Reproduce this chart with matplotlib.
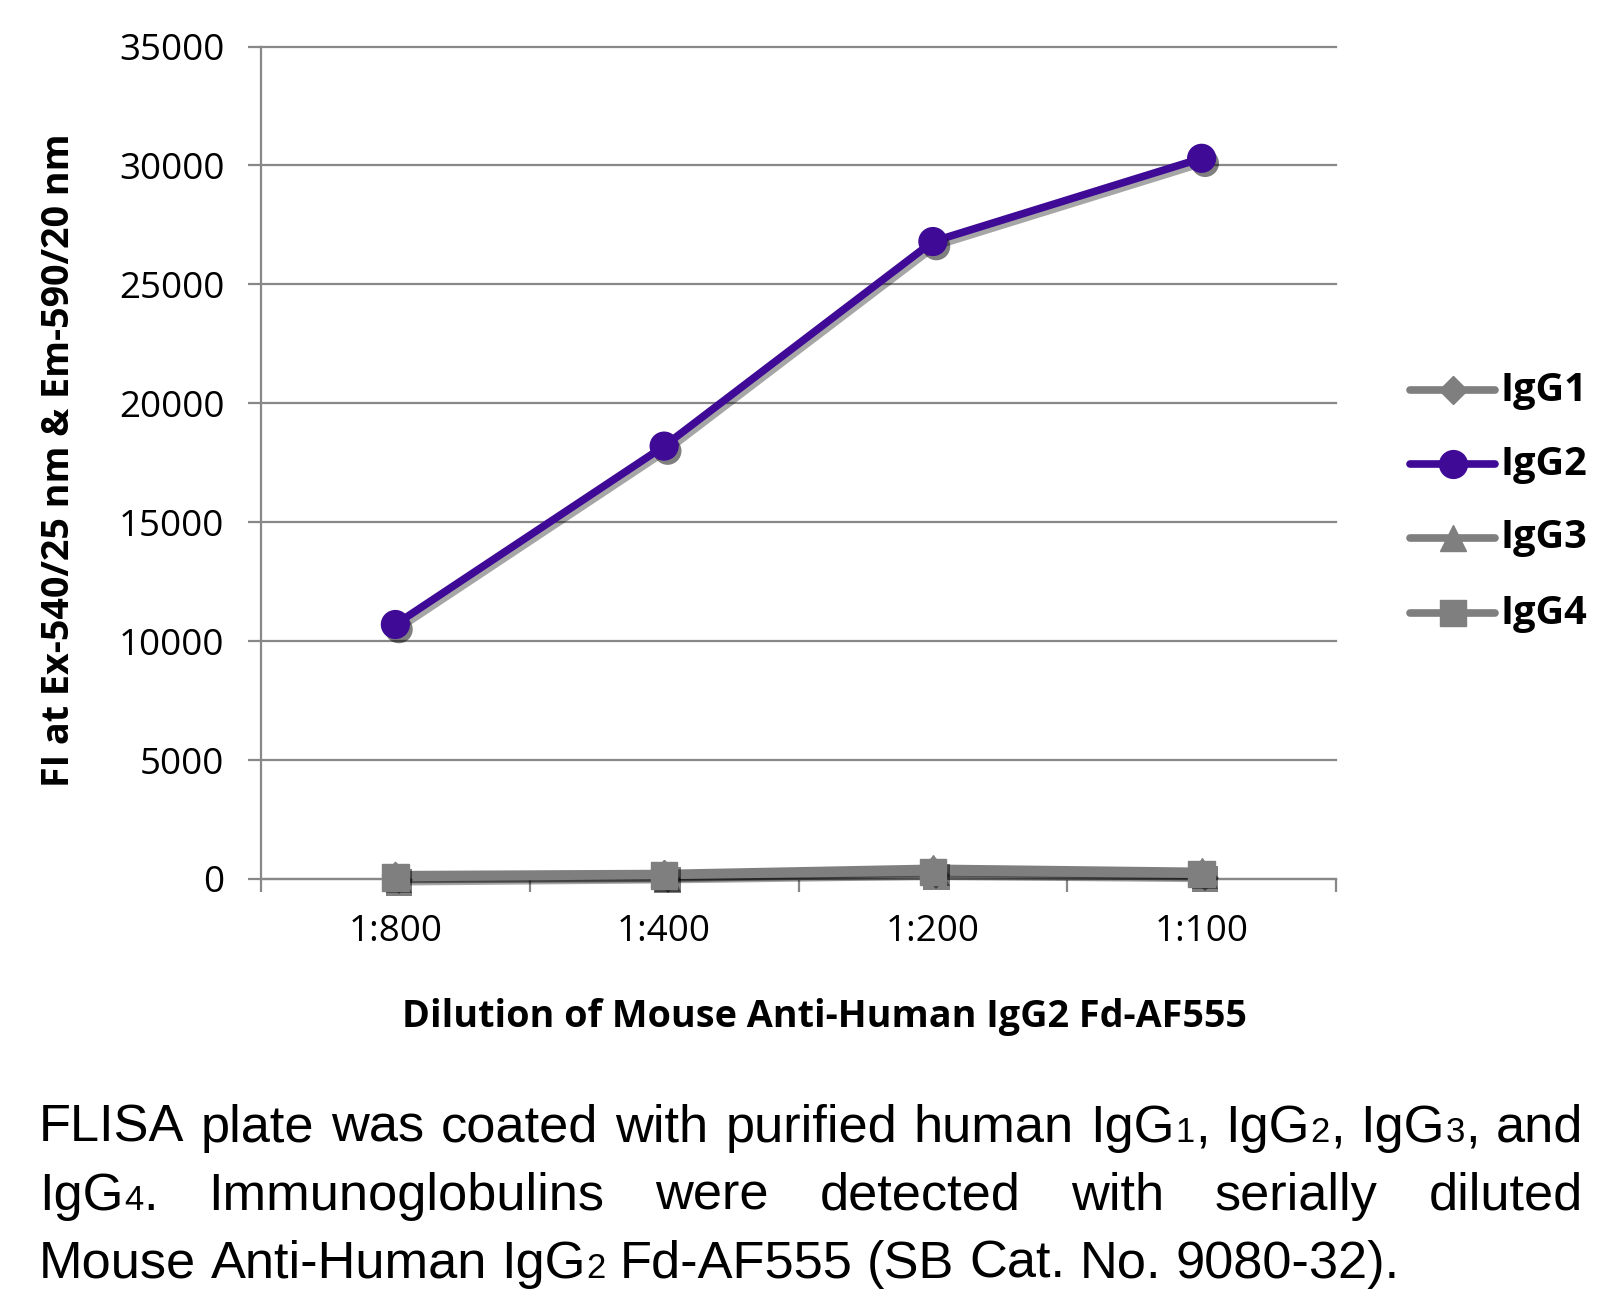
import re
import matplotlib
matplotlib.use("Agg")
import matplotlib.pyplot as plt
from matplotlib import font_manager
from matplotlib import patheffects as pe
from matplotlib.lines import Line2D

# ---------------- data ----------------
categories = ["1:800", "1:400", "1:200", "1:100"]
series_names = ["IgG1", "IgG2", "IgG3", "IgG4"]
igg1 = [150, 200, 380, 260]
igg2 = [10700, 18200, 26800, 30300]
igg3 = [180, 230, 450, 320]
igg4 = [60, 150, 300, 200]
y_ticks = [0, 5000, 10000, 15000, 20000, 25000, 30000, 35000]
x_label = "Dilution of Mouse Anti-Human IgG2 Fd-AF555"
y_label = "FI at Ex-540/25 nm & Em-590/20 nm"
caption_lines = [
    "FLISA plate was coated with purified human IgG~1, IgG~2, IgG~3, and",
    "IgG~4.  Immunoglobulins were detected with serially diluted",
    "Mouse Anti-Human IgG~2 Fd-AF555 (SB Cat. No. 9080-32).",
]

# ---------------- styling ----------------
W, H = 1620, 1306
GRAY = "#7f7f7f"
GRID = "#888888"
PURPLE = "#3f0a96"

names = {f.name for f in font_manager.fontManager.ttflist}
main_font = "Open Sans" if "Open Sans" in names else "DejaVu Sans"
if "Liberation Sans Narrow" in names:
    narrow_font = "Liberation Sans Narrow"
elif "Liberation Sans" in names:
    narrow_font = "Liberation Sans"
else:
    narrow_font = main_font
plt.rcParams["font.family"] = [main_font, "DejaVu Sans"]

fig = plt.figure(figsize=(W / 100, H / 100), dpi=100)
renderer = fig.canvas.get_renderer()

def fx(px):
    return px / W

def fy(py):
    return 1 - py / H

ax_left, ax_right, ax_top, ax_bottom = 261, 1336, 46.5, 879
ax = fig.add_axes([fx(ax_left), fy(ax_bottom), (ax_right - ax_left) / W, (ax_bottom - ax_top) / H])
ax.set_xlim(-0.5, len(categories) - 0.5)
ax.set_ylim(y_ticks[0], y_ticks[-1])

for s in ["top", "right"]:
    ax.spines[s].set_visible(False)
for s in ["left", "bottom"]:
    ax.spines[s].set_color(GRID)
    ax.spines[s].set_linewidth(1.6)

ax.set_yticks(y_ticks)
ax.set_yticklabels([str(v) for v in y_ticks])
ax.yaxis.grid(True, color=GRID, linewidth=1.6, clip_on=False)
ax.set_axisbelow(True)
ax.tick_params(axis="y", length=9.4, width=1.6, color=GRID, pad=17, labelsize=26.5)

x = list(range(len(categories)))
ax.set_xticks(x)
ax.set_xticklabels(categories)
ax.set_xticks([i - 0.5 for i in range(len(categories) + 1)], minor=True)
ax.tick_params(axis="x", which="major", length=0, pad=25, labelsize=26.5)
ax.tick_params(axis="x", which="minor", length=9.4, width=1.6, color=GRID)

series = [igg1, igg2, igg3, igg4]
colors = [GRAY, PURPLE, GRAY, GRAY]
markers = ["D", "o", "^", "s"]
msizes = [14, 20, 19, 19]

for vals, c, m, ms in zip(series, colors, markers, msizes):
    ax.plot(x, vals, color=c, lw=5.5, solid_joinstyle="round", solid_capstyle="round",
            zorder=3, clip_on=False,
            path_effects=[pe.SimpleLineShadow(offset=(2, -3), shadow_color="k", alpha=0.35), pe.Normal()])
    ax.plot(x, vals, ls="none", marker=m, ms=ms, color=c, mec=c, zorder=4, clip_on=False,
            path_effects=[pe.SimplePatchShadow(offset=(2.5, -3.5), shadow_rgbFace="k", alpha=0.5), pe.Normal()])

# ---------------- legend (manual layout) ----------------
leg_rows = [390, 464, 538, 613]
lx0, lx1, ltx = 1410, 1495, 1500
for name, c, m, ms, yy in zip(series_names, colors, markers, msizes, leg_rows):
    fig.add_artist(Line2D([fx(lx0), fx(lx1)], [fy(yy), fy(yy)], transform=fig.transFigure,
                          color=c, lw=5.5, solid_capstyle="round"))
    fig.add_artist(Line2D([fx((lx0 + lx1) / 2)], [fy(yy)], transform=fig.transFigure,
                          ls="none", marker=m, ms=ms, color=c, mec=c))
    fig.text(fx(ltx), fy(yy), name, fontsize=28.5, fontweight="bold", ha="left", va="center")

# ---------------- axis titles ----------------
def fit_text(t, target_w, horizontal=True):
    bb = t.get_window_extent(renderer)
    cur = bb.width if horizontal else bb.height
    t.set_fontsize(t.get_fontsize() * target_w / cur)

xl = fig.text(fx(824), fy(1027), x_label, fontsize=24, fontweight="bold", ha="center", va="baseline")
fit_text(xl, 847)
yl = fig.text(fx(59), fy(460), y_label, fontsize=24, fontweight="bold", ha="center", va="center",
              rotation=90)
fit_text(yl, 655, horizontal=False)

# ---------------- caption (justified) ----------------
def parse_word(word):
    runs = []
    for part in re.split(r"(~\d)", word):
        if not part:
            continue
        if part.startswith("~"):
            runs.append((part[1:], True))
        else:
            runs.append((part, False))
    return runs

cap_left, cap_right = 39, 1583
baselines = [1142, 1210, 1278]
cap_fs = 39

def build_line(line, fs, y, justify):
    words = [parse_word(w) for w in line.split()]
    arts = []
    widths = []
    for runs in words:
        wa = []
        ww = 0
        for txt, small in runs:
            t = fig.text(0, fy(y), txt, fontsize=fs * (0.66 if small else 1.0),
                         family=narrow_font, ha="left", va="baseline")
            w = t.get_window_extent(renderer).width
            wa.append((t, w))
            ww += w
        arts.append(wa)
        widths.append(ww)
    sp_t = fig.text(0, 0, "n n", fontsize=fs, family=narrow_font)
    nn_t = fig.text(0, 0, "nn", fontsize=fs, family=narrow_font)
    space = sp_t.get_window_extent(renderer).width - nn_t.get_window_extent(renderer).width
    sp_t.remove(); nn_t.remove()
    total = cap_right - cap_left
    if justify and len(words) > 1:
        gap = (total - sum(widths)) / (len(words) - 1)
    else:
        gap = space
    xpos = cap_left
    for wa, ww in zip(arts, widths):
        xx = xpos
        for t, w in wa:
            t.set_x(fx(xx))
            xx += w + 0.5
        xpos += ww + gap
    return sum(widths) + space * (len(words) - 1), arts

# determine natural width of first line and shrink if needed
nat, arts = build_line(caption_lines[0], cap_fs, baselines[0], True)
for wa in arts:
    for t, _ in wa:
        t.remove()
if nat > (cap_right - cap_left) * 0.985:
    cap_fs *= (cap_right - cap_left) * 0.985 / nat

for i, (line, y) in enumerate(zip(caption_lines, baselines)):
    build_line(line, cap_fs, y, justify=(i < 2))

fig.savefig("out.png", dpi=100, facecolor="white")
